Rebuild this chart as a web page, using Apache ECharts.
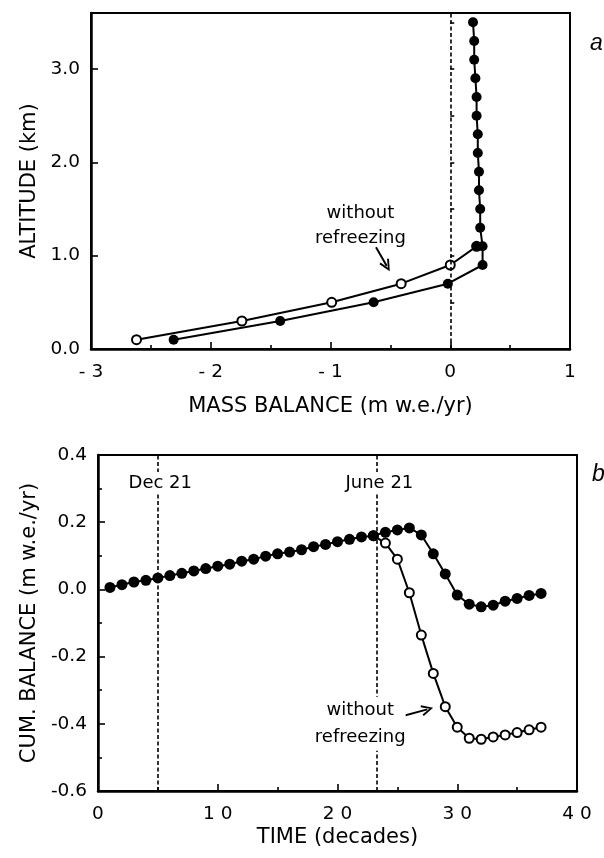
<!DOCTYPE html>
<html><head><meta charset="utf-8">
<script src="https://cdn.jsdelivr.net/npm/echarts@6/dist/echarts.min.js"></script>
<style>html,body{margin:0;padding:0;background:#fff}#c{width:604px;height:858px}</style>
</head><body><div id="c"></div>
<script>
// ---- Panel a: mass balance profile ----
const altitudes = [0.1,0.3,0.5,0.7,0.9,1.1,1.3,1.5,1.7,1.9,2.1,2.3,2.5,2.7,2.9,3.1,3.3,3.5];
const balanceWith = [-2.31,-1.42,-0.64,-0.02,0.27,0.27,0.25,0.25,0.24,0.24,0.23,0.23,0.22,0.22,0.21,0.20,0.20,0.19];
const altitudesWithout = [0.1,0.3,0.5,0.7,0.9,1.1];
const balanceWithout = [-2.62,-1.74,-0.99,-0.41,0.00,0.22];
const massTicks = [-3,-2,-1,0,1];
const massTickLabels = ['- 3','- 2','- 1','0','1'];
const altTicks = [0,1,2,3];
const altTickLabels = ['0.0','1.0','2.0','3.0'];

// ---- Panel b: cumulative balance through the year ----
const decades = [1,2,3,4,5,6,7,8,9,10,11,12,13,14,15,16,17,18,19,20,21,22,23,24,25,26,27,28,29,30,31,32,33,34,35,36,37];
const cumWith = [0.006,0.014,0.022,0.027,0.034,0.041,0.048,0.055,0.062,0.069,0.075,0.084,0.090,0.099,0.106,0.111,0.118,0.127,0.134,0.142,0.149,0.156,0.160,0.170,0.177,0.183,0.162,0.106,0.046,-0.017,-0.044,-0.052,-0.047,-0.035,-0.027,-0.018,-0.012];
const decadesWithout = [23,24,25,26,27,28,29,30,31,32,33,34,35,36,37];
const cumWithout = [0.160,0.138,0.090,-0.010,-0.136,-0.250,-0.349,-0.410,-0.443,-0.446,-0.439,-0.433,-0.426,-0.418,-0.410];
const timeTicks = [0,10,20,30,40];
const timeTickLabels = ['0','1 0','2 0','3 0','4 0'];
const cumTicks = [-0.6,-0.4,-0.2,0,0.2,0.4];
const cumTickLabels = ['-0.6','-0.4','-0.2','0.0','0.2','0.4'];
const markerDates = [5, 23.3];
const markerNames = ['Dec 21','June 21'];

const FONT = 'DejaVu Sans';
const TXT = {color:'#000', fontFamily:FONT};
function lookup(ticks, labels){
  return function(v){
    for (let i=0;i<ticks.length;i++){ if (Math.abs(ticks[i]-v)<1e-6) return labels[i]; }
    return '';
  };
}
const zip = (xs, ys) => xs.map((x,i)=>[x, ys[i]]);
const arrowHead = 'path://M5,0 L10,10 L8.4,10.8 L5,3.4 L1.6,10.8 L0,10 Z';
const black = '#000';
const LW = 2;

function valAxis(o){
  return Object.assign({
    type:'value',
    axisLine:{show:true, onZero:false, lineStyle:{color:black, width:2.5}},
    axisTick:{show:true, inside:true, length:7, lineStyle:{color:black, width:1.6}},
    minorTick:{show:true, splitNumber:2, length:4, lineStyle:{color:black, width:1.6}},
    splitLine:{show:false},
    nameLocation:'middle',
    nameTextStyle:Object.assign({fontSize:21}, TXT),
  }, o);
}

// the open point where the two profiles meet is drawn filled, as in the source
const openProfile = zip(balanceWithout, altitudesWithout).map((p,i,a)=>
  i===a.length-1 ? {value:p, itemStyle:{color:black}} : p);

const option = {
  animation:false,
  backgroundColor:'#fff',
  title:[
    {text:'a', left:585, top:27, textStyle:{fontSize:23, fontStyle:'italic', fontWeight:'normal', color:'#000', fontFamily:'Liberation Sans'}},
    {text:'b', left:587, top:458, textStyle:{fontSize:23, fontStyle:'italic', fontWeight:'normal', color:'#000', fontFamily:'Liberation Sans'}}
  ],
  grid:[
    {left:91, top:13, width:479, height:336, show:true, borderColor:black, borderWidth:2, backgroundColor:'transparent'},
    {left:98, top:455, width:479, height:336, show:true, borderColor:black, borderWidth:2, backgroundColor:'transparent'}
  ],
  xAxis:[
    valAxis({gridIndex:0, min:-3, max:1, interval:1,
      axisLabel:Object.assign({fontSize:18.5, margin:14, formatter:lookup(massTicks, massTickLabels)}, TXT),
      name:'MASS BALANCE (m w.e./yr)', nameGap:47}),
    valAxis({gridIndex:1, min:0, max:40, interval:10,
      axisLabel:Object.assign({fontSize:18.5, margin:14, formatter:lookup(timeTicks, timeTickLabels)}, TXT),
      name:'TIME (decades)', nameGap:36})
  ],
  yAxis:[
    valAxis({gridIndex:0, min:0, max:3.6, interval:1, minorTick:{show:false},
      axisLabel:Object.assign({fontSize:18.5, margin:11, formatter:lookup(altTicks, altTickLabels)}, TXT),
      name:'ALTITUDE (km)', nameGap:48}),
    valAxis({gridIndex:0, min:0, max:3.6, interval:0.5, position:'left', offset:0,
      axisLine:{show:false}, axisLabel:{show:false}, minorTick:{show:false},
      axisTick:{show:true, inside:true, length:4, lineStyle:{color:black, width:1.6}}}),
    valAxis({gridIndex:1, min:-0.6, max:0.4, interval:0.2,
      axisLabel:Object.assign({fontSize:18.5, margin:11, formatter:lookup(cumTicks, cumTickLabels)}, TXT),
      name:'CUM. BALANCE (m w.e./yr)', nameGap:55})
  ],
  series:[
    {type:'line', xAxisIndex:0, yAxisIndex:0, z:3,
      data:openProfile,
      symbol:'circle', symbolSize:9,
      itemStyle:{color:'#fff', borderColor:black, borderWidth:2},
      lineStyle:{color:black, width:LW},
      markLine:{silent:true, symbol:['none','none'], label:{show:false},
        lineStyle:{color:black, width:2, type:'solid'},
        data:[[{coord:[-0.62,1.09]},{coord:[-0.53,0.89], symbol:arrowHead, symbolSize:[11,12]}]]},
      markPoint:{silent:true, symbol:'circle', symbolSize:1, itemStyle:{color:'rgba(0,0,0,0)'},
        data:[{coord:[-0.75,1.32], value:0,
          label:Object.assign({show:true, position:'inside', formatter:'without\nrefreezing', fontSize:18, lineHeight:25, align:'center'}, TXT)}]}
    },
    {type:'line', xAxisIndex:0, yAxisIndex:0, z:4,
      data:zip(balanceWith, altitudes),
      symbol:'circle', symbolSize:10,
      itemStyle:{color:black},
      lineStyle:{color:black, width:LW},
      markLine:{silent:true, symbol:['none','none'], label:{show:false},
        lineStyle:{color:black, width:1.6, type:[4,2.5]},
        data:[{xAxis:0}]}
    },
    {type:'line', xAxisIndex:1, yAxisIndex:2, z:3,
      data:zip(decadesWithout, cumWithout),
      symbol:'circle', symbolSize:9,
      itemStyle:{color:'#fff', borderColor:black, borderWidth:2},
      lineStyle:{color:black, width:LW},
      markLine:{silent:true, symbol:['none','none'], label:{show:false},
        lineStyle:{color:black, width:2, type:'solid'},
        data:[[{coord:[25.0,-0.381]},{coord:[27.5,-0.357], symbol:arrowHead, symbolSize:[11,12]}]]},
      markPoint:{silent:true, symbol:'circle', symbolSize:1, itemStyle:{color:'rgba(0,0,0,0)'},
        data:[{coord:[21.9,-0.40], value:0,
          label:Object.assign({show:true, position:'inside', formatter:'without\nrefreezing', fontSize:18, lineHeight:27, align:'center', backgroundColor:'#fff'}, TXT)}]}
    },
    {type:'line', xAxisIndex:1, yAxisIndex:2, z:4,
      data:zip(decades, cumWith),
      symbol:'circle', symbolSize:11,
      itemStyle:{color:black},
      lineStyle:{color:black, width:LW},
      markLine:{silent:true, symbol:['none','none'], label:{show:false}, z:1,
        lineStyle:{color:black, width:1.6, type:[4,2.5]},
        data:markerDates.map(d=>({xAxis:d}))},
      markPoint:{silent:true, symbol:'circle', symbolSize:1, itemStyle:{color:'rgba(0,0,0,0)'},
        data:markerDates.map((d,i)=>({coord:[d+0.2,0.317], value:0,
          label:Object.assign({show:true, position:'inside', formatter:markerNames[i], fontSize:18, backgroundColor:'#fff', padding:[2,1]}, TXT)}))}
    }
  ]
};
const chart = echarts.init(document.getElementById('c'));
chart.setOption(option);
</script></body></html>
